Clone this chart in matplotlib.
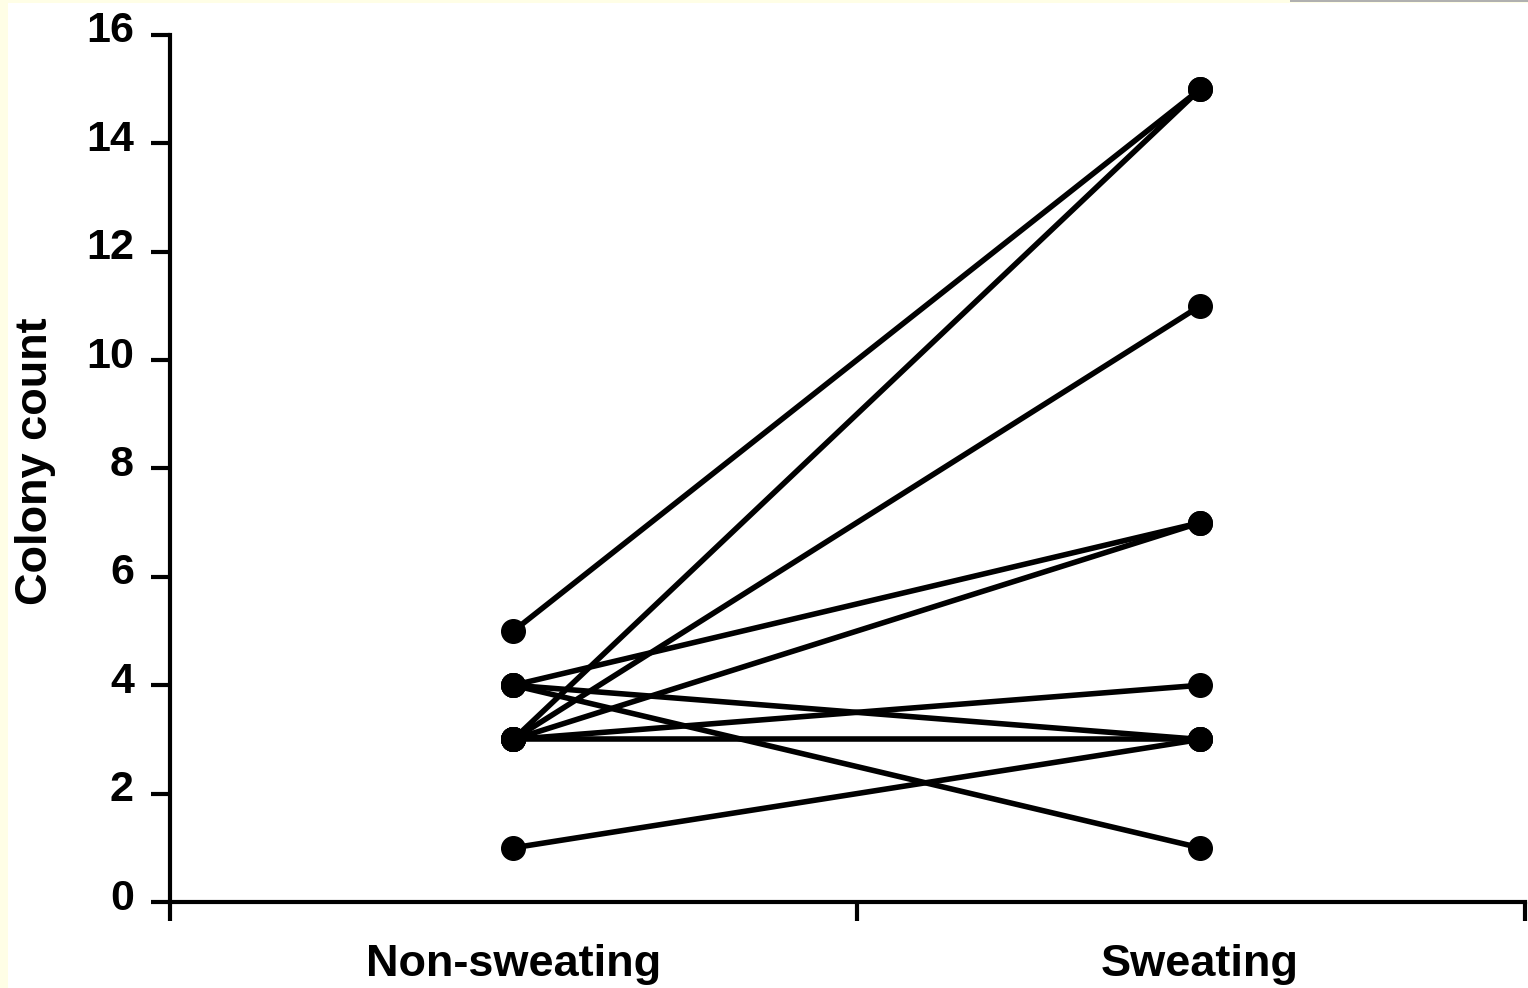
from matplotlib import pyplot as plt
from matplotlib.patches import Rectangle
from matplotlib.transforms import ScaledTranslation

# Paired colony counts, one entry per subject
nonsweating=[5,3,3,4,3,3,4,3,4,1]
sweating=[15,15,11,7,7,4,3,3,1,3]

groups=['Non-sweating','Sweating']
yticks=[0,2,4,6,8,10,12,14,16]

plt.rcParams['font.family']=['Liberation Sans','DejaVu Sans']

fig=plt.figure(figsize=(15.28,9.88),dpi=100)
fig.patch.set_facecolor('#fffee6')
# white page over the pale yellow frame
fig.patches.append(Rectangle((8/1528,0),1,1-3/988,transform=fig.transFigure,
                             facecolor='white',edgecolor='none',zorder=-10))
fig.patches.append(Rectangle((1290/1528,1-2/988),1,2/988,transform=fig.transFigure,
                             facecolor='#b0b0b0',edgecolor='none',zorder=-10))

ax=fig.add_axes([170/1528,1-902/988,(1525-170)/1528,(902-35)/988])
ax.set_facecolor('none')

xpos=[0.5,1.5]
for a,b in zip(nonsweating,sweating):
    ax.plot(xpos,[a,b],color='black',lw=4,marker='o',ms=17,
            solid_capstyle='round',clip_on=False)

xmax=1.973
ax.set_xlim(0,xmax)
ax.set_ylim(0,16)

ax.spines['top'].set_visible(False)
ax.spines['right'].set_visible(False)
for s in ['left','bottom']:
    ax.spines[s].set_linewidth(3)

ax.set_yticks(yticks)
ax.tick_params(axis='y',direction='out',length=14,width=3,labelsize=31,pad=12)
ax.set_xticks([0,1,xmax])
ax.set_xticklabels([])
ax.tick_params(axis='x',which='major',direction='out',length=14,width=3)
ax.set_xticks(xpos,minor=True)
ax.set_xticklabels(groups,minor=True,fontsize=32.5,fontweight='bold')
ax.tick_params(axis='x',which='minor',length=0,pad=30)

# tick numbers sit a little above their ticks in the original
shift=ScaledTranslation(0,0.08,fig.dpi_scale_trans)
for lab in ax.get_yticklabels():
    lab.set_fontweight('bold')
    lab.set_transform(lab.get_transform()+shift)

ax.set_ylabel('Colony count',fontsize=32.5,fontweight='bold')
ax.yaxis.set_label_coords(-0.0996,0.508)
ax.yaxis.label.set_va('center')

fig.savefig('out.png',dpi=100)
